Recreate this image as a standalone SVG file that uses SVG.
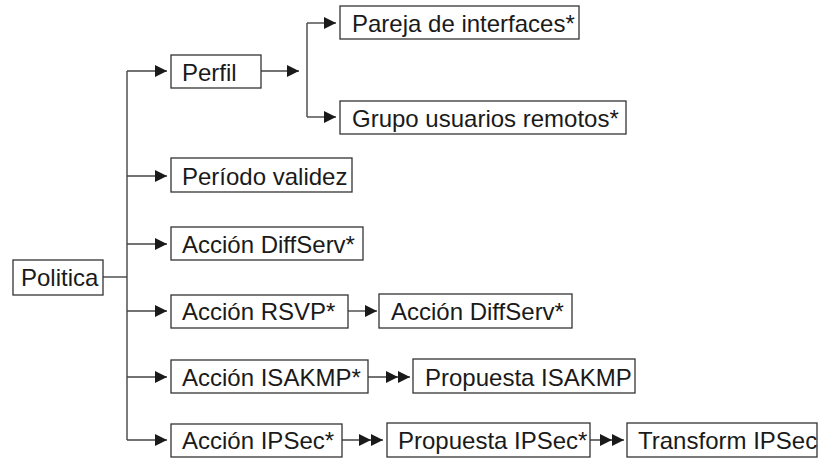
<svg xmlns="http://www.w3.org/2000/svg" width="818" height="459" viewBox="0 0 818 459">
<style>
.box{fill:#fff;stroke:#333;stroke-width:1.3}
.lbl{font-family:"Liberation Sans",Arial,sans-serif;font-size:24px;fill:#1a1a1a}
.ln{fill:none;stroke:#444;stroke-width:1.4}
</style>
<defs>
<marker id="a1" markerUnits="userSpaceOnUse" markerWidth="14" markerHeight="14" refX="12" refY="6" orient="auto">
<path d="M0,0 L12,6 L0,12 Z" fill="#1a1a1a"/>
</marker>
<marker id="a2" markerUnits="userSpaceOnUse" markerWidth="26" markerHeight="14" refX="24" refY="6" orient="auto">
<path d="M0,0 L12,6 L0,12 Z M12,0 L24,6 L12,12 Z" fill="#1a1a1a"/>
</marker>
</defs>
<rect width="818" height="459" fill="#fff"/>
<g id="connectors">
<path class="ln" d="M103,277 H127"/>
<path class="ln" d="M127,71 V440"/>
<path class="ln" d="M127,71 H167" marker-end="url(#a1)"/>
<path class="ln" d="M127,176 H167" marker-end="url(#a1)"/>
<path class="ln" d="M127,244 H167" marker-end="url(#a1)"/>
<path class="ln" d="M127,311 H167" marker-end="url(#a1)"/>
<path class="ln" d="M127,377 H167" marker-end="url(#a1)"/>
<path class="ln" d="M127,440 H167" marker-end="url(#a1)"/>
<path class="ln" d="M261,71 H299" marker-end="url(#a1)"/>
<path class="ln" d="M307,23 V117"/>
<path class="ln" d="M307,23 H336" marker-end="url(#a1)"/>
<path class="ln" d="M307,117 H336" marker-end="url(#a1)"/>
<path class="ln" d="M348,311 H377" marker-end="url(#a1)"/>
<path class="ln" d="M368,377 H410" marker-end="url(#a2)"/>
<path class="ln" d="M342,440 H383" marker-end="url(#a2)"/>
<path class="ln" d="M590,440 H624" marker-end="url(#a2)"/>
</g>
<g id="politica"><rect class="box" x="13" y="260" width="90" height="35"/><text class="lbl" x="21" y="286">Politica</text></g>
<g id="perfil"><rect class="box" x="171" y="55" width="90" height="33"/><text class="lbl" x="182" y="81">Perfil</text></g>
<g id="pareja"><rect class="box" x="340" y="6" width="239" height="33"/><text class="lbl" x="352" y="32">Pareja de interfaces*</text></g>
<g id="grupo"><rect class="box" x="340" y="101" width="286" height="33"/><text class="lbl" x="352" y="127">Grupo usuarios remotos*</text></g>
<g id="periodo"><rect class="box" x="171" y="158" width="181" height="34"/><text class="lbl" x="182" y="185">Período validez</text></g>
<g id="diffserv"><rect class="box" x="171" y="227" width="192" height="33"/><text class="lbl" x="182" y="253">Acción DiffServ*</text></g>
<g id="rsvp"><rect class="box" x="171" y="295" width="177" height="33"/><text class="lbl" x="182" y="320">Acción RSVP*</text></g>
<g id="diffserv2"><rect class="box" x="379" y="294" width="193" height="34"/><text class="lbl" x="391" y="320">Acción DiffServ*</text></g>
<g id="isakmp"><rect class="box" x="171" y="360" width="197" height="33"/><text class="lbl" x="182" y="386">Acción ISAKMP*</text></g>
<g id="prop-isakmp"><rect class="box" x="413" y="359" width="222" height="34"/><text class="lbl" x="425" y="386">Propuesta ISAKMP</text></g>
<g id="ipsec"><rect class="box" x="171" y="424" width="171" height="33"/><text class="lbl" x="182" y="449">Acción IPSec*</text></g>
<g id="prop-ipsec"><rect class="box" x="387" y="423" width="203" height="34"/><text class="lbl" x="398" y="449">Propuesta IPSec*</text></g>
<g id="transform"><rect class="box" x="627" y="423" width="190" height="34"/><text class="lbl" x="638" y="449">Transform IPSec</text></g>
</svg>
